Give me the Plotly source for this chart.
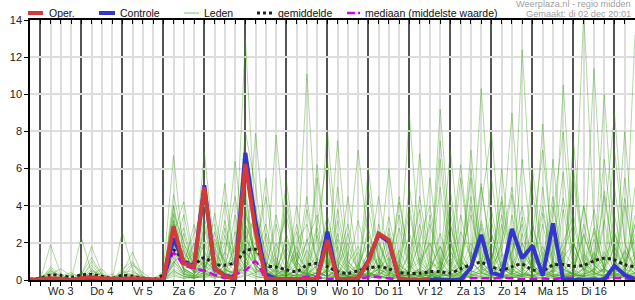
import plotly.graph_objects as go

# 6-hourly steps from di 2 dec 18:00 to wo 17 dec 12:00
steps = list(range(60))
day_labels = ["Wo 3", "Do 4", "Vr 5", "Za 6", "Zo 7", "Ma 8", "Di 9",
              "Wo 10", "Do 11", "Vr 12", "Za 13", "Zo 14", "Ma 15", "Di 16"]
label_steps = [3 + 4 * k for k in range(len(day_labels))]   # noon of each day
midnight_steps = [1 + 4 * k for k in range(15)]

oper = [0.0,0.05,0.1,0.05,0.02,0.1,0.15,0.1,0.05,0.05,0.1,0.05,0.0,
        0.0,2.88,0.9,0.72, 5.0,0.65,0.2,0.05, 6.25,2.6,0.1,0.05,
        0.05,0.05,0.05,0.05, 2.15,0.05,0.05,0.1, 0.99,2.5,2.15,0.05,
        0.0,0.0,0.0]
controle = [0.0,0.03,0.05,0.03,0.0,0.05,0.1,0.05,0.0,0.0,0.05,0.0,0.0,
            0.0,2.25,0.95,0.75, 5.1,0.6,0.25,0.1, 6.85,3.1,0.3,0.05,
            0.0,0.0,0.0,0.0, 2.6,0.0,0.0,0.1, 1.05,2.45,2.05,0.05,
            0.0,0.0,0.0,0.0, 0.0,0.0,0.67,2.43, 0.4,0.23,2.75,1.17,
            1.85,0.23,3.05,0.0, 0.0,0.0,0.0,0.0, 0.77,0.27,0.05]
gemiddelde = [0.05,0.1,0.27,0.25,0.15,0.27,0.3,0.2,0.1,0.25,0.2,0.1,0.05,
              0.3,1.6,1.05,0.85, 1.2,0.85,0.8,0.95, 1.55,1.65,0.8,0.7,
              0.55,0.45,0.8,0.9, 0.72,0.45,0.36,0.5, 0.63,0.72,0.6,0.4,
              0.36,0.36,0.45,0.45, 0.38,0.6,0.82,0.94, 0.72,0.54,0.72,0.85,
              0.55,0.5,0.8,0.83, 0.74,0.8,1.03,1.17, 1.08,0.82,0.72]
mediaan = [0.0,0.02,0.05,0.03,0.0,0.02,0.05,0.02,0.0,0.02,0.05,0.0,0.0,
           0.1,1.45,0.8,0.63, 0.5,0.28,0.1,0.3, 0.5,1.0,0.1,0.05,
           0.05,0.08,0.18,0.15, 0.05,0.05,0.05,0.08, 0.15,0.16,0.08,0.05,
           0.05,0.05,0.1,0.08, 0.05,0.08,0.1,0.1, 0.08,0.12,0.1,0.05,
           0.05,0.08,0.05,0.1, 0.12,0.05,0.08,0.1, 0.12,0.08,0.05]

m01 = [0,0,1.9,0.3,0,0,0,0,0,0,0,0,0, 0.5,6.7,1.2,0.4, 2.0,0.5,0.3,1.0, 3.0,1.5,0.5,0.2, 0.8,0.3,11.1,2.0, 0.5,0.2,0,0.4, 1.5,0.8,0.2,0, 0.5,2.0,0.3,0.1, 0.4,1.2,3.5,1.0, 0.3,0.8,2.2,0.5, 0.2,0,0.6,1.5, 0.8,0.3,0.5,1.2, 0.4,0.2,0.8]
m02 = [0,0,0.2,0,0,2.3,0.4,0,0,0,0,0,0, 0,4.6,2.0,0.8, 6.9,1.5,0.6,0.2, 1.0,7.9,2.0,0.5, 0.2,0,0.6,1.0, 3.5,0.8,0.2,0, 0,0.4,1.5,0.6, 8.9,1.5,0.4,0.2, 0,0.5,1.0,2.8, 0.6,0.2,0.4,12.4, 3.0,0.8,0.2,0.5, 1.0,0.4,0.2,0.6, 2.5,1.0,0.3]
m03 = [0,0,0,0,0.3,0.2,1.8,0.4,0,2.6,0.6,0,0, 0.2,3.0,1.0,2.5, 4.0,1.2,5.2,0.8, 13.0,3.0,0.8,0.3, 0.5,1.5,0.4,0.2, 0,0.3,1.2,7.0, 2.0,0.5,0.1,0.3, 0.8,0.2,0,9.2, 2.0,0.5,0.3,0.8, 0.2,0,1.5,3.0, 0.5,0.8,0.4,10.5, 2.0,0.6,0.3,0.2, 0.5,1.5,0.8]
m04 = [0,0,0.5,0.2,0,0,0.3,0,0,0.4,1.5,0.2,0, 0,2.5,4.2,1.0, 0.5,2.0,1.0,6.4, 1.5,0.8,0.3,7.8, 2.0,0.5,0.3,0.8, 8.1,1.5,0.3,0.2, 0.6,2.0,0.5,0.1, 0.3,0,0.5,1.8, 0.6,0.2,0.8,10.3, 2.5,0.6,0.3,0.5, 1.2,0.4,0.2,0.3, 0.8,14.5,3.0,0.6, 0.3,0.2,1.0]
m05 = [0,0,0.7,0.3,0,0,1.0,0.3,0,0,0.8,0.4,0, 0,1.5,0.8,0.5, 1.0,0.4,2.0,1.5, 8.0,5.0,1.0,0.4, 5.35,1.0,0.4,0.2, 0.6,7.5,1.0,0.4, 0.2,0.8,6.0,1.0, 0.3,0.6,0.2,0.4, 1.5,6.2,1.0,0.5, 0.8,0.4,2.0,1.0, 0.3,8.4,1.0,0.4, 0.2,0.6,11.4,2.0, 0.5,0.3,0.2]
m06 = [0,0,0,0,0,0.4,0.2,0,0,0,0,0,0, 0,1.0,0.3,0.2, 0.6,0.2,0.8,0.3, 6.0,2.0,0.5,1.2, 0.3,0.1,0.5,6.2, 1.0,0.3,0.2,0.1, 5.0,1.0,0.4,0.2, 0.5,0.2,0.6,1.0, 0.3,0.4,1.5,0.6, 5.5,1.2,0.4,0.2, 0.8,0.3,0.5,1.0, 6.0,1.5,0.5,10.0, 2.0,0.6,13.2]
m07 = [0,0,0.1,0,0,0,0.5,0.2,0,0,0.3,0,0, 0.3,3.5,0.6,0.3, 1.5,0.4,0.2,0.5, 4.0,1.0,0.4,0.2, 1.5,0.6,0.3,0.8, 0.4,1.0,3.0,0.5, 0.2,0.6,0.3,4.2, 1.0,0.4,0.2,0.8, 7.0,1.5,0.5,0.3, 1.0,3.5,0.8,0.4, 0.2,1.0,4.5,0.6, 0.3,0.2,1.5,0.8, 7.0,2.0,0.5]
m08 = [0,0,0.3,0.1,0,0,0.2,0,0,0.5,0.2,0,0, 0,2.0,0.5,0.2, 3.0,0.8,0.3,0.2, 2.0,1.0,0.5,3.5, 1.0,0.3,0.2,0.4, 2.5,0.5,0.2,0.1, 0.3,3.0,0.8,0.2, 0.1,0.5,5.5,1.0, 0.4,0.2,0.6,2.0, 0.8,4.5,1.0,0.5, 3.0,0.6,0.2,0.1, 0.5,2.5,0.8,0.3, 0.2,4.0,1.0]
m09 = [0,0,0,0,0,0,0.1,0,0,0,0,0,0, 0,0.8,2.5,0.5, 0.3,0.2,0.5,3.5, 1.0,0.4,2.5,0.6, 0.3,4.0,1.0,0.4, 0.2,0.1,0.5,1.5, 0.4,0.2,0.1,0.3, 2.5,0.6,0.3,0.2, 0.4,1.0,0.5,5.0, 1.5,0.4,0.2,0.3, 6.0,1.2,0.4,0.2, 0.3,0.6,0.4,1.5, 0.6,0.3,5.0]
m10 = [0,0,0,0,0,0,0,0,0,0,0.2,0,0, 0,1.2,0.4,0.1, 0.2,0.4,0.2,0.6, 2.5,0.6,0.2,0.1, 0.2,0.8,4.5,0.5, 0.2,0.4,0.1,0.2, 0.8,0.3,2.0,0.5, 0.2,0.1,0.4,6.5, 1.0,0.3,0.2,0.4, 0.2,1.0,0.3,0.6, 0.2,0.4,2.5,0.5, 0.3,0.2,1.0,0.4, 0.2,0.6,0.3]
m11 = [0,0,0,0,0,0,0.3,0.6,0,0,0,0,0, 0,0.5,0.2,0.1, 0.4,0.1,0.3,0.2, 1.5,0.8,0.3,0.2, 0.3,0.2,0.1,0.4, 0.2,0.6,0.2,0.1, 0.4,0.2,0.1,0.6, 0.3,0.2,3.5,0.4, 0.2,0.8,0.3,0.2, 0.6,0.2,0.3,0.2, 0.8,0.3,0.2,3.8, 0.6,0.2,0.3,0.5, 0.2,0.1,0.4]
m12 = [0,0,0,0,0,0,0,0,0,0,0,0,0, 0,0.3,0.1,0.2, 0.1,0.3,0.1,0.2, 0.6,0.2,0.1,0.1, 0.2,0.1,0.3,0.1, 0.1,0.2,0.1,0.3, 0.1,0.2,0.1,0.1, 0.2,0.1,0.1,0.3, 0.2,0.1,0.2,0.1, 0.3,0.1,0.2,0.1, 0.2,0.1,0.3,0.2, 0.1,0.2,0.1,0.2, 0.1,0.2,0.1]
m13 = [0,0,0,0,0,0,0,0,0,0,0,0,0, 0,0.6,0.3,0.1, 0.8,0.2,0.1,0.3, 0.4,0.2,0.1,0.2, 0.1,0.3,0.2,0.1, 0.4,0.1,0.2,0.1, 0.2,0.1,0.3,0.1, 0.1,0.2,0.1,0.2, 0.3,0.1,0.2,0.4, 0.1,0.2,0.1,0.2, 0.1,0.3,0.1,0.2, 0.2,0.1,0.2,0.1, 0.3,0.1,0.2]
m14 = [0,0,0,0,0,0,0,0,0,0,0,0,0, 0,0.2,0.1,0.1, 0.2,0.1,0.2,0.1, 0.3,0.1,0.2,0.1, 0.1,0.1,0.2,0.1, 0.1,0.2,0.1,0.1, 0.2,0.1,0.1,0.1, 0.1,0.1,0.2,0.1, 0.1,0.2,0.1,0.1, 0.2,0.1,0.1,0.2, 0.1,0.1,0.1,0.1, 0.2,0.1,0.1,0.1, 0.1,0.2,0.1]
m15 = [0,0,0.4,0.1,0,0.1,0.6,0.2,0,0.3,0.9,0.1,0, 0.2,4.0,1.5,0.6, 2.5,3.0,0.5,0.4, 2.2,3.5,1.5,0.5, 0.4,2.0,3.0,1.0, 0.6,2.5,0.4,0.2, 1.0,4.5,1.0,0.3, 0.6,1.2,0.3,0.5, 3.0,0.8,4.0,0.6, 0.4,2.0,5.0,1.0, 0.5,1.5,0.6,2.0, 3.5,0.8,0.4,4.5, 1.0,0.5,2.5]
m16 = [0,0,0.5,0.2,0,0.3,1.2,0.3,0,0.6,1.0,0.2,0, 0.4,3.2,0.8,1.5, 0.6,2.2,1.0,0.5, 3.0,1.5,4.5,0.8, 0.3,1.0,2.0,3.5, 0.8,0.3,1.5,0.6, 2.5,0.6,0.3,1.0, 4.0,0.8,0.3,2.5, 0.6,3.5,1.0,0.4, 2.5,0.6,1.5,4.0, 0.8,0.3,2.2,0.6, 0.3,3.0,0.8,0.4, 1.8,0.6,3.0]
m17 = [0,0,0.6,0.2,0,0.2,0.8,0.2,0,0.4,0.5,0.1,0, 0.1,2.8,0.6,0.3, 1.2,0.4,2.8,0.6, 0.5,2.5,0.5,1.5, 3.5,0.6,0.2,1.2, 0.4,3.2,0.6,0.2, 1.5,0.4,0.2,2.8, 0.5,0.2,1.0,0.6, 2.0,0.4,0.8,3.0, 0.6,0.3,2.5,0.8, 0.4,3.0,0.6,0.3, 2.0,0.5,1.2,0.4, 3.5,0.8,0.4]
m18 = [0,0,0,0,0,0,0.4,0.1,0,0.2,0.3,0,0, 0,2.0,1.8,0.4, 0.5,1.0,0.3,0.2, 1.8,0.6,0.3,2.0, 0.5,0.2,1.6,0.5, 1.2,0.3,0.2,0.5, 0.2,0.8,0.4,0.2, 1.6,0.3,0.2,0.4, 1.2,0.3,0.6,1.8, 0.4,0.2,0.3,1.5, 0.6,0.2,1.0,0.3, 0.2,1.4,0.4,0.6, 0.2,1.6,0.5]
m19 = [0,0,0,0,0,0,0,0,0,0,0,0,0, 0.1,1.8,0.5,0.2, 0.4,0.2,0.6,0.3, 0.8,0.4,0.2,0.5, 0.2,0.6,0.3,0.2, 0.5,0.2,0.4,0.2, 0.3,0.6,0.2,0.3, 0.2,0.5,0.2,0.2, 0.6,0.2,0.3,0.5, 0.2,0.4,0.6,0.2, 0.3,0.2,0.5,0.3, 0.4,0.2,0.3,0.6, 0.2,0.4,0.2]
m20 = [0,0,0,0,0,0,0,0,0,0,0,0,0, 0,0.4,0.2,0.1, 0.3,0.5,0.2,0.1, 0.2,0.4,0.6,0.2, 0.1,0.3,0.2,0.4, 0.2,0.1,0.3,0.2, 0.4,0.2,0.1,0.2, 0.3,0.2,0.4,0.1, 0.2,0.3,0.1,0.2, 0.4,0.2,0.1,0.3, 0.2,0.4,0.2,0.1, 0.3,0.2,0.4,0.2, 0.1,0.3,0.2]
m21 = [0,0,0,0,0,0,0,0,0,0,0,0,0, 0,4.0,0.5,0.3, 1.0,0.6,4.2,1.0, 5.0,0.8,0.3,0.2, 2.5,0.6,0.2,5.5, 1.0,0.4,0.2,0.8, 3.8,1.0,0.3,0.2, 0.6,3.0,0.5,0.2, 4.2,1.0,0.5,0.3, 3.2,0.6,0.3,2.5, 0.5,0.2,6.5,1.0, 0.5,0.3,2.8,0.6, 0.3,5.5,1.0]
m22 = [0,0,0,0,0,0,0,0,0,0,0,0,0, 0,2.2,0.8,3.0, 0.5,0.3,1.5,4.5, 1.0,0.5,0.2,0.6, 4.0,1.0,0.3,0.2, 0.5,5.0,1.0,0.3, 0.2,0.6,2.5,0.5, 0.3,4.5,1.0,0.4, 0.2,0.8,5.5,1.0, 0.4,0.2,3.5,0.6, 4.8,1.0,0.3,0.2, 0.6,4.0,0.8,0.3, 0.2,0.6,1.5]
m23 = [0,0,0,0,0,0,0,0,0,0,0,0,0, 0,3.0,1.2,0.4, 2.8,0.5,0.2,2.0, 4.5,1.0,0.4,0.3, 0.6,3.0,0.8,0.3, 2.0,0.5,4.5,0.8, 0.3,0.2,1.0,3.5, 0.6,0.3,0.2,0.5, 2.2,0.6,6.0,1.0, 0.4,3.0,0.6,0.3, 0.2,0.5,4.0,0.8, 0.3,0.2,0.6,4.8, 1.0,0.4,0.3]
m24 = [0,0,0,0,0,0,0,0,0,0,0,0,0, 0,3.6,2.0,0.6, 4.5,1.0,0.3,0.2, 0.8,4.0,1.0,0.4, 0.2,0.6,0.3,2.8, 0.6,0.2,0.8,0.3, 0.2,2.0,0.6,0.3, 0.2,0.6,3.0,0.8, 0.3,5.5,1.0,0.4, 0.2,0.8,0.4,6.5, 1.5,0.5,0.2,0.4, 5.5,1.0,0.4,0.2, 0.6,0.3,3.5]
m25 = [0,0,0,0,0,0,0,0,0,0,0,0,0, 0,1.0,0.4,0.2, 0.6,1.8,0.4,0.2, 2.8,0.6,0.3,0.2, 0.4,0.2,2.2,0.4, 0.2,0.6,0.2,0.3, 0.2,0.4,0.2,0.8, 0.3,0.2,0.6,0.3, 0.2,0.4,0.2,0.6, 2.0,0.3,0.2,0.4, 0.2,0.6,0.3,0.2, 0.4,0.2,2.2,0.5, 0.3,0.2,0.4]
m26 = [0,0,0,0,0,0,0,0,0,0,0,0,0, 0,0.5,0.2,0.1, 0.3,0.2,0.1,0.4, 0.6,0.3,0.2,0.1, 0.3,0.2,0.4,0.2, 0.1,0.3,0.2,0.1, 0.2,0.3,0.1,0.2, 0.1,0.2,0.1,0.3, 0.2,0.1,0.3,0.2, 0.1,0.2,0.1,0.3, 0.2,0.1,0.2,0.1, 0.3,0.1,0.2,0.3, 0.1,0.2,0.1]
m27 = [0,0,0,0,0,0,0,0,0,0,0,0,0, 0,2.4,0.6,0.3, 0.8,0.4,3.2,0.6, 0.3,1.2,5.5,1.0, 0.4,0.2,0.6,3.0, 6.5,1.0,0.4,0.2, 0.6,2.2,0.5,0.3, 5.0,1.0,0.4,7.5, 1.5,0.6,0.3,4.0, 8.0,1.5,0.5,0.3, 2.5,7.0,1.5,0.6, 0.3,4.0,1.0,6.5, 1.5,0.6,0.4]
m28 = [0,0,0,0,0,0,0,0,0,0,0,0,0, 0,1.6,3.5,0.8, 0.3,2.6,0.6,0.3, 3.8,0.8,0.3,0.6, 4.5,1.0,0.3,0.2, 0.5,3.8,0.8,0.3, 6.0,1.2,0.4,0.2, 0.3,6.8,1.2,0.4, 3.0,0.6,7.0,1.5, 0.4,2.0,9.0,1.5, 0.6,0.3,3.5,8.0, 1.5,0.5,0.3,3.0, 9.0,2.0,0.6]
m29 = [0,0,0,0,0,0,0,0,0,0,0,0,0, 0,1.4,0.3,2.0, 0.5,0.2,0.8,1.2, 0.4,3.0,0.6,0.2, 0.3,1.8,0.5,0.3, 0.2,0.6,2.5,0.4, 0.2,0.3,0.6,4.5, 0.8,0.3,0.2,5.0, 0.8,0.3,4.5,0.6, 0.3,6.0,0.8,0.4, 0.2,5.0,0.8,0.3, 7.5,1.0,0.4,0.2, 0.6,8.0,1.2]
m30 = [0,0,0,0,0,0,0,0,0,0,0,0,0, 0,0.8,0.3,0.2, 0.4,0.8,0.3,0.2, 1.2,0.4,0.8,0.3, 0.2,0.5,0.2,0.8, 0.3,0.2,0.6,0.2, 0.4,0.2,0.8,0.3, 0.2,0.5,0.2,0.6, 0.3,0.2,0.4,0.8, 0.2,0.6,0.3,0.2, 0.5,0.2,0.4,0.8, 0.2,0.3,0.6,0.2, 0.4,0.2,0.8]
m31 = [0,0,0.3,0.6,0.2,0,0.5,0.3,0,0.2,0.4,0.2,0, 0.2,2.6,1.0,0.4, 3.4,0.6,1.5,0.8, 2.2,1.4,3.0,0.6, 1.8,0.6,3.8,1.0, 0.4,2.2,0.6,3.2, 1.0,0.4,2.8,0.6, 3.6,0.8,2.0,0.6, 4.8,1.0,0.5,3.2, 1.0,4.2,0.8,2.0, 0.6,3.6,1.0,4.4, 1.2,0.6,3.8,1.0, 2.6,0.8,3.0]
m32 = [0,0,0,0.2,0.4,0.1,0,0.2,0.3,0.1,0,0,0, 0.1,1.8,2.8,0.6, 0.4,3.6,0.8,2.6, 1.0,2.0,0.6,3.0, 0.8,2.6,0.5,1.4, 3.0,0.6,2.0,0.4, 2.8,0.6,1.2,0.3, 1.4,3.8,0.6,1.8, 0.4,2.6,1.2,5.2, 0.8,1.6,4.6,0.6, 2.2,0.5,1.6,5.8, 0.6,2.4,0.8,3.2, 0.6,4.4,0.8]
m33 = [0,0,0,0,0,0,0.2,0.1,0,0.1,0.3,0.1,0, 0,3.2,0.8,2.0, 1.6,0.5,2.4,0.6, 3.4,2.6,0.8,0.4, 2.2,0.8,0.3,2.4, 0.6,1.8,0.4,0.8, 2.0,0.6,3.4,0.8, 0.4,2.2,4.0,0.8, 3.6,0.6,2.0,0.8, 3.8,0.8,0.4,3.4, 0.8,4.0,0.6,1.6, 3.0,0.8,2.6,0.6, 5.0,1.0,2.2]
m34 = [0,0,0,0,0,0,0,0,0,0,0,0,0, 0,0.9,1.6,0.5, 2.2,0.8,0.4,1.8, 0.6,1.6,0.4,0.9, 0.3,1.4,0.6,0.3, 1.6,0.4,0.9,1.8, 0.4,1.2,0.3,1.6, 0.5,1.0,2.0,0.4, 1.6,0.4,1.2,2.2, 0.5,1.4,0.4,2.0, 0.6,1.8,0.4,1.2, 2.0,0.5,1.4,0.6, 1.8,0.4,1.2]

leden = [m01, m02, m03, m04, m05, m06, m07, m08, m09, m10,
         m11, m12, m13, m14, m15, m16, m17, m18, m19, m20,
         m21, m22, m23, m24, m25, m26, m27, m28, m29, m30,
         m31, m32, m33, m34]

for k, m in enumerate(leden):
    assert len(m) == 60, (k + 1, len(m))
assert len(controle) == 60 and len(gemiddelde) == 60 and len(mediaan) == 60
assert len(oper) == 40

FONT = "Liberation Sans, Arial, sans-serif"
C_RED = "#d43a3a"
C_BLUE = "#3434d0"
C_LID = "rgba(60,160,20,0.4)"
C_MED = "#d600f0"

fig = go.Figure()
for m in leden:
    fig.add_trace(go.Scatter(x=steps, y=m, mode="lines",
                             line=dict(color=C_LID, width=1),
                             hoverinfo="skip", showlegend=False))
fig.add_trace(go.Scatter(x=steps, y=mediaan, mode="lines",
                         line=dict(color=C_MED, width=2.5, dash="8px,4px",
                                   shape="spline", smoothing=0.6),
                         showlegend=False))
fig.add_trace(go.Scatter(x=steps, y=gemiddelde, mode="lines",
                         line=dict(color="#222222", width=3, dash="dot",
                                   shape="spline", smoothing=0.8),
                         showlegend=False))
fig.add_trace(go.Scatter(x=steps, y=controle, mode="lines",
                         line=dict(color=C_BLUE, width=4), showlegend=False))
fig.add_trace(go.Scatter(x=steps[:len(oper)], y=oper, mode="lines",
                         line=dict(color=C_RED, width=4), showlegend=False))

# invisible traces to activate overlay axes
fig.add_trace(go.Scatter(x=[0], y=[0], xaxis="x2", mode="markers",
                         marker=dict(opacity=0), showlegend=False, hoverinfo="skip"))
fig.add_trace(go.Scatter(x=[0], y=[0], xaxis="x3", mode="markers",
                         marker=dict(opacity=0), showlegend=False, hoverinfo="skip"))

XR = [0, 59]
fig.update_layout(
    width=635, height=300,
    margin=dict(l=30, r=0, t=20, b=20),
    paper_bgcolor="white", plot_bgcolor="white",
    font=dict(family=FONT, size=11, color="#222"),
    showlegend=False,
    xaxis=dict(range=XR, tickmode="array", tickvals=midnight_steps,
               ticktext=[""] * len(midnight_steps),
               showgrid=True, gridcolor="#555555", gridwidth=1.5,
               ticks="outside", ticklen=4, tickcolor="black",
               showline=True, linecolor="black", linewidth=1.5,
               zeroline=False,
               minor=dict(dtick=1, tick0=0, showgrid=True, gridcolor="#dddddd",
                          gridwidth=1.5, ticks="outside", ticklen=4,
                          tickcolor="black")),
    xaxis2=dict(range=XR, overlaying="x", anchor="y", side="bottom",
                tickmode="array", tickvals=label_steps, ticktext=day_labels,
                showgrid=False, ticks="", showline=False, zeroline=False,
                ticklabelstandoff=3,
                tickfont=dict(family=FONT, size=11, color="#222")),
    xaxis3=dict(range=XR, overlaying="x", anchor="y", side="top",
                tickmode="linear", tick0=0, dtick=1,
                showgrid=False, ticks="inside", ticklen=4, tickcolor="black",
                showticklabels=False, showline=True, linecolor="black",
                linewidth=1.5, zeroline=False),
    yaxis=dict(range=[0, 14], dtick=2, showgrid=True, gridcolor="#dddddd",
               gridwidth=1.5, ticks="outside", ticklen=4, tickcolor="black",
               showline=True, linecolor="black", linewidth=1.5, zeroline=False,
               tickfont=dict(family=FONT, size=11, color="#222")),
)

# manual legend (pixel -> paper coordinates)
def px(x):
    return (x - 30) / 605.0

def py(y):
    return (280 - y) / 260.0

legend_items = [
    ("Oper.", 28, 43, dict(color=C_RED, width=4), 47),
    ("Controle", 99, 115, dict(color=C_BLUE, width=4), 118),
    ("Leden", 184, 199, dict(color="rgba(60,160,20,0.45)", width=1.5), 202),
    ("gemiddelde", 257, 272, dict(color="#222222", width=3, dash="dot"), 276),
    ("mediaan (middelste waarde)", 347, 360, dict(color=C_MED, width=2.5, dash="8px,3px"), 363),
]
for label, x0, x1, ln, tx in legend_items:
    fig.add_shape(type="line", xref="paper", yref="paper",
                  x0=px(x0), x1=px(x1), y0=py(13), y1=py(13), line=ln)
    fig.add_annotation(xref="paper", yref="paper", x=px(tx), y=py(13),
                       text=label, showarrow=False, xanchor="left",
                       yanchor="middle", font=dict(family=FONT, size=10.5, color="#111"))

fig.add_annotation(xref="paper", yref="paper", x=px(633), y=py(4.5),
                   text="Weerplaza.nl - regio midden", showarrow=False,
                   xanchor="right", yanchor="middle",
                   font=dict(family=FONT, size=9.2, color="#a0a0a0"))
fig.add_annotation(xref="paper", yref="paper", x=px(633), y=py(14),
                   text="Gemaakt: di 02 dec 20:01", showarrow=False,
                   xanchor="right", yanchor="middle",
                   font=dict(family=FONT, size=9.2, color="#a0a0a0"))

fig.write_html("out.html")
